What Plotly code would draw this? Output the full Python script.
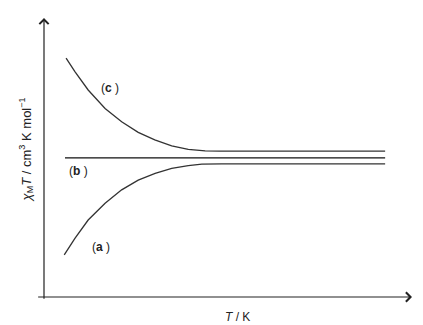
import plotly.graph_objects as go

# Temperature (arbitrary units) and chi_M*T (arbitrary units) for the three cases
t_a = [5.5, 8.4, 12.0, 16.6, 21.1, 25.6, 30.2, 34.7, 39.2, 42.9, 48.3, 92.7]
chi_a = [15.1, 21.0, 27.6, 33.6, 38.4, 41.9, 44.3, 46.1, 47.1, 47.6, 47.7, 47.7]

t_b = [5.7, 92.7]
chi_b = [49.9, 49.9]

t_c = [6.0, 8.4, 12.0, 16.6, 21.1, 25.6, 30.1, 34.7, 39.2, 43.8, 47.8, 92.7]
chi_c = [85.6, 80.8, 74.2, 67.6, 62.8, 59.0, 56.3, 54.2, 52.9, 52.4, 52.3, 52.3]

labels = ["(<b>a</b> )", "(<b>b</b> )", "(<b>c</b> )"]
label_t = [15.5, 9.5, 18.0]
label_chi = [18.0, 45.0, 75.0]

FONT = "Liberation Sans, Arial, sans-serif"

fig = go.Figure()
for t, chi, col in [(t_a, chi_a, "#333333"), (t_b, chi_b, "#111111"), (t_c, chi_c, "#333333")]:
    fig.add_trace(go.Scatter(x=t, y=chi, mode="lines",
                             line=dict(color=col, width=1.3, shape="linear"),
                             hoverinfo="skip", showlegend=False))

for txt, x, y in zip(labels, label_t, label_chi):
    fig.add_annotation(x=x, y=y, text=txt, showarrow=False,
                       font=dict(family=FONT, size=12, color="#222222"))

# Axes drawn as arrows
fig.add_annotation(x=0, y=100, ax=0, ay=-1.2, xref="x", yref="y", axref="x", ayref="y",
                   text="", showarrow=True, arrowhead=4, arrowsize=1.5, arrowwidth=1.2,
                   arrowcolor="#222222", standoff=0)
fig.add_annotation(x=100, y=0, ax=-2, ay=0, xref="x", yref="y", axref="x", ayref="y",
                   text="", showarrow=True, arrowhead=4, arrowsize=1.5, arrowwidth=1.2,
                   arrowcolor="#222222", standoff=0)

fig.add_annotation(xref="paper", yref="paper", x=-0.048, y=0.53, showarrow=False,
                   textangle=-90, xanchor="center", yanchor="middle",
                   text="<i>χ</i><sub>M</sub><i>T</i> / cm<sup>3</sup> K mol<sup>−1</sup>",
                   font=dict(family=FONT, size=13, color="#222222"))
fig.add_annotation(xref="paper", yref="paper", x=0.527, y=-0.072, showarrow=False,
                   xanchor="center", yanchor="middle", text="<i>T</i> / K",
                   font=dict(family=FONT, size=12, color="#222222"))

fig.update_xaxes(range=[0, 100], visible=False)
fig.update_yaxes(range=[0, 100], visible=False)
fig.update_layout(width=423, height=325, margin=dict(l=44, r=11, t=18, b=28),
                  plot_bgcolor="white", paper_bgcolor="white")

fig.write_html("out.html")
